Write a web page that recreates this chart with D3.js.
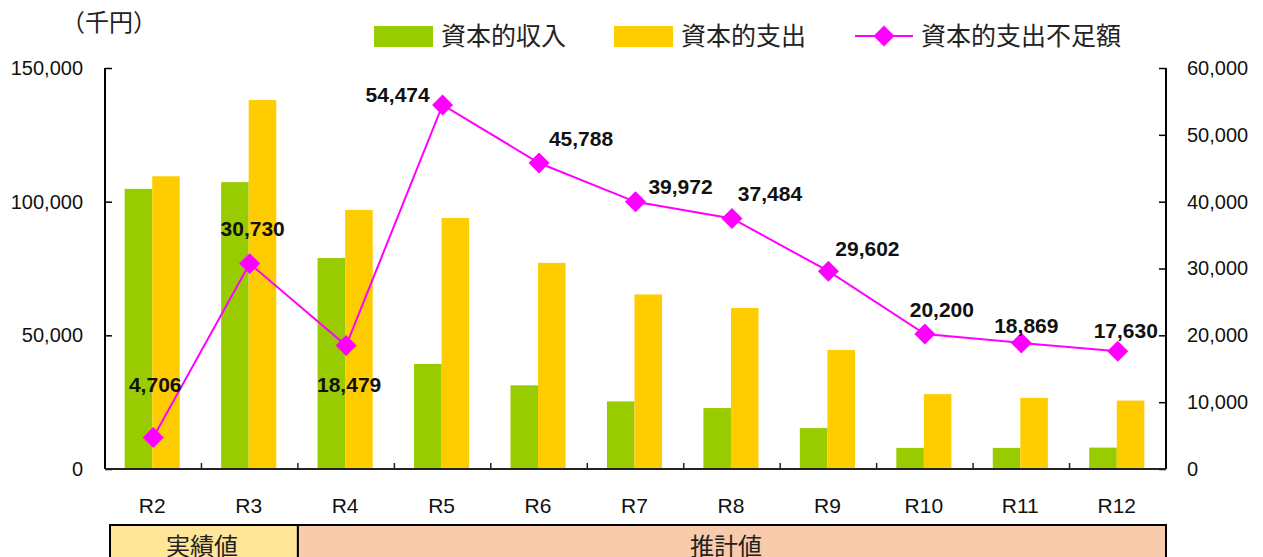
<!DOCTYPE html>
<html>
<head>
<meta charset="utf-8">
<script src="https://cdn.jsdelivr.net/npm/d3@7"></script>
<style>
  body { margin: 0; background: #fff; }
  svg { display: block; }
  .jp { font-family: "Noto Sans CJK JP", "Noto Sans", sans-serif; }
</style>
</head>
<body>
<svg id="chart" width="1263" height="557"></svg>
<script>
// data (千円)
var categories = ["R2", "R3", "R4", "R5", "R6", "R7", "R8", "R9", "R10", "R11", "R12"];
var income   = [104800, 107300, 78900, 39300, 31300, 25300, 22800, 15300, 7900, 7900, 8000];
var expense  = [109500, 138000, 96900, 93900, 77100, 65300, 60200, 44500, 28000, 26600, 25600];
var shortfall = [4706, 30730, 18479, 54474, 45788, 39972, 37484, 29602, 20200, 18869, 17630];
var leftTicks = [0, 50000, 100000, 150000];
var rightTicks = [0, 10000, 20000, 30000, 40000, 50000, 60000];
var seriesNames = ["資本的収入", "資本的支出", "資本的支出不足額"];
var periods = [{name: "実績値", from: 0, to: 1}, {name: "推計値", from: 2, to: 10}];

// label placement around each marker (dx, dy)
var labelOffset = [[2, -46], [3, -28], [3, 47], [-45, -3], [42, -17], [45, -8],
                   [38, -17], [39, -15], [17, -17], [5, -10], [8, -13]];

var green = "#99CC00", yellow = "#FFCC00", magenta = "#FF00FF";
var numFont = "'Liberation Sans', Arial, sans-serif";

var svg = d3.select("#chart");
var plotL = 105, plotR = 1166, plotT = 68, plotB = 469;

var x = d3.scaleBand().domain(categories).range([plotL, plotR]).paddingInner(0).paddingOuter(0);
var x1 = d3.scaleBand().domain(["income", "expense"]).range([0, x.bandwidth()])
    .paddingInner(0).paddingOuter(0.75);
var yL = d3.scaleLinear().domain([0, 150000]).range([plotB, plotT]);
var yR = d3.scaleLinear().domain([0, 60000]).range([plotB, plotT]);
var fmt = d3.format(",");

// bars
var g = svg.append("g");
categories.forEach(function(c, i) {
    g.append("rect")
        .attr("x", x(c) + x1("income") - 1).attr("width", x1.bandwidth())
        .attr("y", yL(income[i])).attr("height", plotB - yL(income[i]))
        .attr("fill", green);
    g.append("rect")
        .attr("x", x(c) + x1("expense") - 1).attr("width", x1.bandwidth())
        .attr("y", yL(expense[i])).attr("height", plotB - yL(expense[i]))
        .attr("fill", yellow);
});

// left axis
var axL = svg.append("g").attr("transform", "translate(" + plotL + ",0)")
    .call(d3.axisLeft(yL).tickValues(leftTicks).tickSize(-7).tickPadding(22).tickFormat(fmt));
axL.select(".domain").attr("stroke", "#000").attr("stroke-width", 2).attr("d", "M0," + plotT + "V" + plotB);
axL.selectAll(".tick line").attr("stroke", "#000").attr("stroke-width", 1.5);
axL.selectAll("text").attr("font-size", 20).attr("fill", "#111").attr("font-family", numFont);

// right axis
var axR = svg.append("g").attr("transform", "translate(" + plotR + ",0)")
    .call(d3.axisRight(yR).tickValues(rightTicks).tickSize(-7).tickPadding(21).tickFormat(fmt));
axR.select(".domain").attr("stroke", "#000").attr("stroke-width", 2).attr("d", "M0," + plotT + "V" + plotB);
axR.selectAll(".tick line").attr("stroke", "#000").attr("stroke-width", 1.5);
axR.selectAll("text").attr("font-size", 20).attr("fill", "#111").attr("font-family", numFont);

// bottom axis: line, separators between categories, labels
svg.append("line").attr("x1", plotL).attr("x2", plotR).attr("y1", plotB).attr("y2", plotB)
    .attr("stroke", "#222").attr("stroke-width", 2);
categories.slice(1).forEach(function(c) {
    svg.append("line").attr("x1", x(c)).attr("x2", x(c)).attr("y1", plotB).attr("y2", plotB - 6)
        .attr("stroke", "#222").attr("stroke-width", 1.5);
});
svg.append("g").selectAll("text").data(categories).enter().append("text")
    .attr("x", function(d) { return x(d) + x.bandwidth() / 2 - 1; })
    .attr("y", 513)
    .attr("text-anchor", "middle")
    .attr("font-family", numFont)
    .attr("font-size", 21).attr("fill", "#111")
    .text(function(d) { return d; });

// line + diamond markers
var pts = categories.map(function(c, i) {
    return [x(c) + x.bandwidth() / 2, yR(shortfall[i])];
});
svg.append("path").attr("d", d3.line()(pts))
    .attr("fill", "none").attr("stroke", magenta).attr("stroke-width", 2);
var diamond = d3.symbol().type(d3.symbolSquare).size(220);
svg.append("g").selectAll("path").data(pts).enter().append("path")
    .attr("d", diamond)
    .attr("transform", function(d) { return "translate(" + d[0] + "," + d[1] + ") rotate(45)"; })
    .attr("fill", magenta);

// value labels
svg.append("g").selectAll("text").data(shortfall).enter().append("text")
    .attr("x", function(d, i) { return pts[i][0] + labelOffset[i][0]; })
    .attr("y", function(d, i) { return pts[i][1] + labelOffset[i][1]; })
    .attr("text-anchor", "middle")
    .attr("font-family", numFont)
    .attr("font-weight", "bold").attr("font-size", 21).attr("fill", "#111")
    .text(function(d) { return fmt(d); });

// unit
svg.append("text").attr("class", "jp").attr("x", 61).attr("y", 31)
    .attr("font-size", 24).attr("fill", "#222").text("（千円）");

// legend
var lg = svg.append("g").attr("class", "jp");
lg.append("rect").attr("x", 374).attr("y", 26).attr("width", 59).attr("height", 21).attr("fill", green);
lg.append("text").attr("x", 441).attr("y", 45).attr("font-size", 25).attr("fill", "#222").text(seriesNames[0]);
lg.append("rect").attr("x", 614).attr("y", 26).attr("width", 59).attr("height", 21).attr("fill", yellow);
lg.append("text").attr("x", 681).attr("y", 45).attr("font-size", 25).attr("fill", "#222").text(seriesNames[1]);
lg.append("line").attr("x1", 855).attr("x2", 913).attr("y1", 36).attr("y2", 36)
    .attr("stroke", magenta).attr("stroke-width", 2);
lg.append("path").attr("d", diamond).attr("transform", "translate(884,36) rotate(45)").attr("fill", magenta);
lg.append("text").attr("x", 921).attr("y", 45).attr("font-size", 25).attr("fill", "#222").text(seriesNames[2]);

// period bands under the axis
var bandFill = ["#FFE699", "#F8CBAD"];
periods.forEach(function(p, i) {
    var x0 = i === 0 ? 110 : x(categories[p.from]);
    var xEnd = x(categories[p.to]) + x.bandwidth();
    svg.append("rect").attr("x", x0).attr("y", 525).attr("width", xEnd - x0).attr("height", 40)
        .attr("fill", bandFill[i]).attr("stroke", "#000").attr("stroke-width", 2);
    svg.append("text").attr("class", "jp")
        .attr("x", (x0 + xEnd) / 2 - (i === 0 ? 2 : 6)).attr("y", 555)
        .attr("text-anchor", "middle").attr("font-size", 24).attr("fill", "#222")
        .text(p.name);
});
</script>
</body>
</html>
